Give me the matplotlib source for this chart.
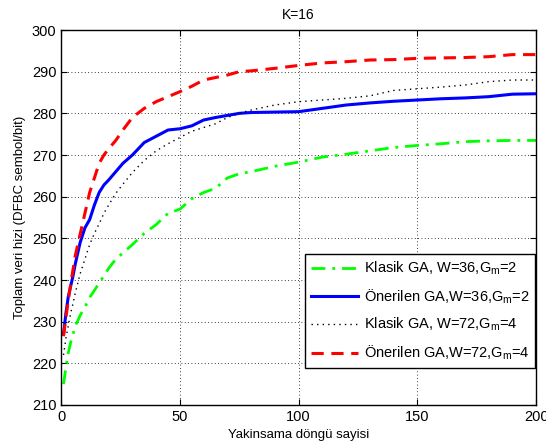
import matplotlib
matplotlib.use("Agg")
from matplotlib import pyplot as plt

plt.rcParams['font.family'] = ['Liberation Sans', 'DejaVu Sans']
plt.rcParams['mathtext.fontset'] = 'custom'
plt.rcParams['mathtext.rm'] = 'Liberation Sans'
plt.rcParams['mathtext.it'] = 'Liberation Sans'

iters = [1, 2, 3, 4, 5, 6, 8, 10, 12, 14, 16, 18, 20, 23, 26, 30, 35, 40, 45, 50,
         55, 60, 65, 70, 75, 80, 90, 100, 110, 120, 130, 140, 150, 160, 170, 180, 190, 200]

klasik_36 = [215, 219, 222.5, 225, 227, 229, 231.5, 233.5, 235.8, 237.5, 239.3, 241, 242.8,
             245, 246.5, 248.5, 251.2, 253.3, 256, 257, 259.5, 261, 262, 264.5, 265.5, 266,
             267.3, 268.3, 269.5, 270.2, 271, 271.8, 272.3, 272.7, 273.2, 273.4, 273.5, 273.5]
onerilen_36 = [227, 232, 236, 238.5, 241, 244, 249, 252.5, 254.5, 258, 261, 262.8, 264,
               266, 268, 270, 273, 274.5, 276, 276.3, 277, 278.4, 279, 279.5, 280, 280.2,
               280.3, 280.4, 281.2, 282, 282.5, 282.9, 283.2, 283.5, 283.7, 284, 284.6, 284.7]
klasik_72 = [222, 226, 229, 232, 234.4, 237, 241.5, 245, 248.5, 251.2, 253.5, 256, 258,
             260.8, 263, 265.8, 268.7, 271, 272.7, 274.2, 275.7, 276.6, 277.5, 279, 280, 280.8,
             282, 282.8, 283.2, 283.6, 284.2, 285.5, 285.9, 286.3, 286.8, 287.6, 288, 288]
onerilen_72 = [226.5, 231, 235, 239, 242.5, 246, 251, 256, 261, 264.5, 268, 270, 271.5,
               273.5, 276, 279, 281.2, 282.8, 284, 285.2, 286.5, 288, 288.6, 289.2, 290, 290.2,
               290.8, 291.5, 292.1, 292.4, 292.8, 292.9, 293.2, 293.3, 293.4, 293.6, 294.1, 294.1]

fig = plt.figure(figsize=(5.46, 4.48), dpi=100)
ax = fig.add_axes([0.112, 0.096, 0.87, 0.837])

ax.plot(iters, klasik_36, color=(0, 1, 0), lw=2, linestyle=(0, (5, 2.5, 1, 2.5)),
        label='Klasik GA, W=36,G$_m$=2')
ax.plot(iters, onerilen_36, color=(0, 0, 1), lw=2.2, linestyle='-',
        label='Önerilen GA,W=36,G$_m$=2')
ax.plot(iters, klasik_72, color='black', lw=1, linestyle=(0, (1, 3)),
        label='Klasik GA, W=72,G$_m$=4')
ax.plot(iters, onerilen_72, color=(1, 0, 0), lw=2.2, linestyle=(0, (4, 2.5)),
        label='Önerilen GA,W=72,G$_m$=4')

ax.set_xlim(0, 200)
ax.set_ylim(210, 300)
ax.set_xticks([0, 50, 100, 150, 200])
ax.set_yticks(range(210, 301, 10))
ax.grid(True, color='black', linestyle=(0, (1, 3)), linewidth=0.6)
ax.tick_params(direction='in', top=True, right=True, labelsize=10.5, length=4)
for s in ax.spines.values():
    s.set_linewidth(1)

ax.set_title('K=16', fontsize=10, pad=8)
ax.set_xlabel('Yakinsama döngü sayisi', fontsize=9.5, labelpad=4)
ax.set_ylabel('Toplam veri hizi (DFBC sembol/bit)', fontsize=9.5, labelpad=4)

leg = ax.legend(loc='lower right', bbox_to_anchor=(0.998, 0.099), fontsize=10.5,
                fancybox=False, edgecolor='black', framealpha=1, handlelength=3.2,
                borderaxespad=0, labelspacing=0.7, handletextpad=0.4, borderpad=0.4)
leg.get_frame().set_linewidth(1)

fig.savefig('out.png', dpi=100)
